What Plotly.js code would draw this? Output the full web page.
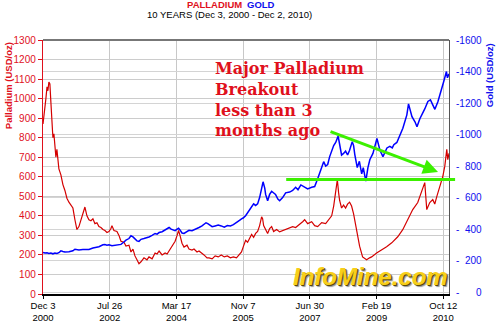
<!DOCTYPE html>
<html>
<head>
<meta charset="utf-8">
<script src="https://cdn.plot.ly/plotly-3.0.1.min.js"></script>
<style>html,body{margin:0;padding:0;background:#fff;}#chart{width:500px;height:322px;}</style>
</head>
<body>
<div id="chart"></div>
<script>
// ---- Palladium (USD/oz) ----
const palDates = ['2000-12-03','2000-12-12','2000-12-20','2000-12-29','2001-01-08','2001-01-16','2001-01-25','2001-02-03','2001-02-12','2001-02-21','2001-03-02','2001-03-11','2001-03-20','2001-03-29','2001-04-07','2001-04-16','2001-04-25','2001-05-13','2001-05-31','2001-06-18','2001-07-06','2001-07-24','2001-08-11','2001-08-29','2001-09-16','2001-10-04','2001-10-22','2001-11-09','2001-11-27','2001-12-15','2002-01-02','2002-01-20','2002-02-07','2002-02-25','2002-03-15','2002-04-02','2002-04-20','2002-05-08','2002-05-26','2002-06-13','2002-07-01','2002-07-19','2002-08-06','2002-08-15','2002-09-02','2002-09-29','2002-10-17','2002-11-04','2002-12-01','2002-12-19','2003-01-15','2003-02-02','2003-02-20','2003-03-10','2003-03-28','2003-04-15','2003-05-03','2003-05-30','2003-06-26','2003-07-14','2003-08-11','2003-09-07','2003-09-25','2003-10-13','2003-11-09','2003-12-06','2003-12-24','2004-01-11','2004-01-29','2004-02-16','2004-03-05','2004-03-23','2004-04-05','2004-04-18','2004-05-06','2004-05-24','2004-06-20','2004-07-08','2004-08-04','2004-08-22','2004-09-18','2004-10-06','2004-11-02','2004-11-20','2004-12-17','2005-01-04','2005-02-01','2005-02-28','2005-03-28','2005-04-24','2005-05-21','2005-06-18','2005-07-15','2005-08-11','2005-09-08','2005-10-05','2005-10-23','2005-11-07','2005-11-29','2005-12-17','2006-01-04','2006-01-22','2006-02-09','2006-02-27','2006-03-17','2006-04-04','2006-04-22','2006-05-01','2006-05-10','2006-05-28','2006-06-15','2006-07-03','2006-07-21','2006-08-08','2006-09-04','2006-10-01','2006-10-28','2006-11-24','2006-12-30','2007-01-26','2007-02-22','2007-03-30','2007-04-26','2007-05-14','2007-06-10','2007-07-16','2007-08-12','2007-09-08','2007-10-14','2007-11-19','2007-12-25','2008-01-12','2008-01-30','2008-02-17','2008-03-03','2008-03-14','2008-03-23','2008-04-10','2008-04-28','2008-05-16','2008-06-03','2008-06-21','2008-07-09','2008-07-27','2008-08-23','2008-09-19','2008-10-16','2008-11-21','2008-12-18','2009-01-05','2009-02-19','2009-04-06','2009-05-20','2009-07-05','2009-08-28','2009-10-12','2009-11-26','2010-01-10','2010-02-24','2010-03-23','2010-04-10','2010-04-28','2010-05-16','2010-06-12','2010-07-09','2010-07-27','2010-08-14','2010-09-10','2010-10-07','2010-10-25','2010-11-03','2010-11-12','2010-11-21','2010-12-02'];
const palValues = [870,930,960,1000,1060,1040,1085,1075,980,880,800,820,760,700,740,680,640,610,560,530,490,470,455,440,380,330,345,380,420,445,400,380,375,385,360,365,345,340,330,325,315,320,335,350,325,320,300,270,265,245,250,215,230,195,175,155,165,185,175,190,180,210,205,220,200,210,205,220,235,255,270,300,325,300,260,240,250,230,225,230,215,220,210,200,185,185,180,195,190,200,190,195,185,190,185,200,215,240,275,265,290,305,290,310,320,350,395,385,350,330,310,335,345,320,330,318,325,330,340,345,340,355,370,380,360,370,350,345,365,360,385,400,450,520,585,520,480,440,455,440,460,470,450,410,330,245,190,175,185,190,210,225,242,262,293,329,380,432,468,510,534,570,432,468,483,460,498,550,601,653,700,740,688,720];

// ---- Gold (USD/oz) ----
const goldDates = ['2000-12-03','2000-12-20','2001-01-08','2001-01-25','2001-02-12','2001-03-02','2001-03-20','2001-04-07','2001-04-25','2001-05-13','2001-05-31','2001-06-18','2001-07-24','2001-08-11','2001-08-29','2001-09-16','2001-10-04','2001-10-22','2001-11-27','2002-01-02','2002-01-20','2002-02-25','2002-03-15','2002-04-20','2002-05-26','2002-06-13','2002-07-01','2002-07-19','2002-08-15','2002-09-29','2002-10-17','2002-11-04','2002-12-01','2002-12-19','2003-01-15','2003-02-02','2003-02-20','2003-03-10','2003-03-28','2003-04-15','2003-05-03','2003-05-30','2003-06-26','2003-07-14','2003-08-11','2003-09-07','2003-09-25','2003-10-13','2003-11-09','2003-12-06','2003-12-24','2004-01-11','2004-01-29','2004-02-16','2004-03-05','2004-03-23','2004-04-05','2004-04-18','2004-05-06','2004-05-24','2004-06-20','2004-07-08','2004-08-04','2004-08-22','2004-09-18','2004-10-06','2004-11-02','2004-11-20','2004-12-08','2004-12-24','2005-01-15','2005-02-01','2005-02-28','2005-03-28','2005-04-24','2005-05-21','2005-06-18','2005-07-15','2005-08-11','2005-09-08','2005-10-05','2005-10-23','2005-11-07','2005-11-29','2005-12-17','2006-01-04','2006-01-22','2006-02-09','2006-02-27','2006-03-17','2006-04-04','2006-04-22','2006-05-05','2006-05-20','2006-05-28','2006-06-15','2006-07-03','2006-07-21','2006-08-08','2006-08-25','2006-09-15','2006-10-01','2006-10-28','2006-11-24','2006-12-30','2007-01-26','2007-02-22','2007-03-15','2007-04-10','2007-05-14','2007-06-10','2007-07-16','2007-08-12','2007-09-08','2007-09-26','2007-10-14','2007-11-01','2007-11-19','2007-12-07','2007-12-25','2008-01-12','2008-01-30','2008-02-17','2008-03-10','2008-03-23','2008-04-10','2008-04-28','2008-05-16','2008-06-03','2008-06-21','2008-07-15','2008-07-27','2008-08-07','2008-08-29','2008-09-17','2008-10-08','2008-10-22','2008-11-14','2008-12-03','2008-12-20','2009-01-17','2009-02-22','2009-03-21','2009-04-17','2009-05-23','2009-06-18','2009-07-10','2009-07-24','2009-08-20','2009-09-17','2009-10-13','2009-11-18','2009-12-03','2010-01-03','2010-01-30','2010-02-17','2010-03-15','2010-04-29','2010-05-26','2010-06-18','2010-07-10','2010-07-28','2010-08-24','2010-09-29','2010-10-17','2010-11-09','2010-11-18','2010-12-02'];
const goldValues = [252,248,250,245,248,243,248,245,250,262,258,255,256,258,262,272,270,268,270,272,270,280,282,288,300,302,298,301,295,300,305,303,318,330,340,358,350,340,325,322,335,340,345,350,360,372,368,378,383,395,405,410,400,395,390,400,405,395,375,372,385,392,390,395,400,410,420,430,440,435,420,415,420,425,420,412,422,420,428,440,455,465,470,485,505,520,540,560,550,560,600,650,700,660,620,580,620,640,630,620,590,580,600,630,635,645,665,650,680,665,655,665,670,720,760,790,828,800,810,860,900,930,950,990,940,870,880,895,870,900,955,930,873,790,830,750,790,705,790,840,880,975,900,860,915,925,915,935,950,1000,1040,1125,1195,1113,1081,1050,1100,1164,1210,1220,1190,1160,1208,1290,1340,1400,1360,1385];

// ---- Tick labels ----
const xTickVals = ['2000-12-03','2002-07-26','2004-03-17','2005-11-07','2007-06-30','2009-02-19','2010-10-12'];
const xTickText = ['Dec 3<br>2000','Jul 26<br>2002','Mar 17<br>2004','Nov 7<br>2005','Jun 30<br>2007','Feb 19<br>2009','Oct 12<br>2010'];
const palTickVals = [0,100,200,300,400,500,600,700,800,900,1000,1100,1200,1300];
const goldTickVals = [0,200,400,600,800,1000,1200,1400,1600];
const goldTickText = goldTickVals.map(v => '-' + '\u2007'.repeat(4 - String(v).length) + v);

const RED = '#e0101c', BLUE = '#1010ee', GREEN = '#3cf000';

const traces = [
  {x: palDates, y: palValues, type: 'scatter', mode: 'lines', name: 'Palladium',
   line: {color: '#d40000', width: 1.2}, yaxis: 'y', hoverinfo: 'skip'},
  {x: goldDates, y: goldValues, type: 'scatter', mode: 'lines', name: 'Gold',
   line: {color: '#0000ff', width: 1.5}, yaxis: 'y2', hoverinfo: 'skip'}
];

const layout = {
  width: 500, height: 322,
  margin: {l: 43, r: 51, t: 40, b: 28},
  paper_bgcolor: '#ffffff', plot_bgcolor: '#ffffff',
  showlegend: false,
  font: {family: 'Arial, Liberation Sans, sans-serif', size: 10, color: '#000'},
  xaxis: {
    type: 'date', range: ['2000-12-03', '2010-12-02'],
    tickvals: xTickVals, ticktext: xTickText,
    ticks: 'outside', ticklen: 3, tickcolor: '#000',
    showgrid: true, gridcolor: '#c8c8c8', gridwidth: 1,
    showline: true, linecolor: '#000', linewidth: 1.5,
    tickfont: {size: 9.5, color: '#000'}, zeroline: false, ticklabelstandoff: -1
  },
  yaxis: {
    range: [0, 1300], tickvals: palTickVals,
    ticks: 'outside', ticklen: 4, tickcolor: RED,
    showgrid: true, gridcolor: '#cccccc', gridwidth: 1,
    showline: true, linecolor: RED, linewidth: 1.2,
    tickfont: {size: 10, color: RED}, zeroline: false
  },
  yaxis2: {
    overlaying: 'y', side: 'right', range: [-12, 1600],
    tickvals: goldTickVals, ticktext: goldTickText,
    ticks: '', showgrid: true, gridcolor: '#d4d4d4', gridwidth: 1,
    showline: true, linecolor: '#555', linewidth: 1,
    tickfont: {size: 10, color: BLUE}, zeroline: false, ticklabelstandoff: 4
  },
  shapes: [
    {type: 'line', xref: 'paper', yref: 'paper', x0: 0, x1: 1, y0: 1, y1: 1,
     line: {color: '#777', width: 2}},
    {type: 'line', xref: 'paper', yref: 'y2', x0: 0.599, x1: 1.015, y0: 715, y1: 715,
     line: {color: GREEN, width: 3}}
  ],
  annotations: [
    {xref: 'paper', yref: 'paper', x: 0.495, y: 1.14, xanchor: 'right', yanchor: 'middle',
     text: '<b>PALLADIUM</b>', showarrow: false, font: {size: 9.5, color: RED}},
    {xref: 'paper', yref: 'paper', x: 0.576, y: 1.14, xanchor: 'right', yanchor: 'middle',
     text: '<b>GOLD</b>', showarrow: false, font: {size: 9.5, color: BLUE}},
    {xref: 'paper', yref: 'paper', x: 0.46, y: 1.10, xanchor: 'center', yanchor: 'middle',
     text: '10 YEARS (Dec 3, 2000 - Dec 2, 2010)', showarrow: false, font: {size: 9.5, color: '#000'}},
    {xref: 'paper', yref: 'paper', x: -0.085, y: 0.82, xanchor: 'center', yanchor: 'middle', textangle: -90,
     text: '<b>Palladium (USD/oz)</b>', showarrow: false, font: {size: 9.5, color: RED}},
    {xref: 'paper', yref: 'paper', x: 1.1, y: 0.86, xanchor: 'center', yanchor: 'middle', textangle: -90,
     text: '<b>Gold (USD/oz)</b>', showarrow: false, font: {size: 9.5, color: BLUE}},
    {xref: 'paper', yref: 'paper', x: 0.418, y: 0.935, xanchor: 'left', yanchor: 'top', align: 'left',
     text: '<b>Major Palladium<br>Breakout<br>less than 3<br>months ago</b>', showarrow: false,
     font: {family: 'DejaVu Serif, Georgia, serif', size: 16, color: RED}},
    {xref: 'paper', yref: 'paper', x: 0.973, y: 0.48, ax: -109, ay: -41, axref: 'pixel', ayref: 'pixel',
     text: '', showarrow: true, arrowhead: 2, arrowsize: 1, arrowwidth: 3, arrowcolor: GREEN},
    {xref: 'paper', yref: 'paper', x: 0.807, y: 0.07, xanchor: 'center', yanchor: 'middle',
     text: '<b><i>InfoMine.com</i></b>', showarrow: false,
     font: {family: 'Liberation Sans, Arial, sans-serif', size: 24, color: '#f7cf1a', shadow: '1px 1px 0px #5a4a08, 2px 2px 1px #999'}}
  ]
};

Plotly.newPlot('chart', traces, layout, {displayModeBar: false, staticPlot: true});
</script>
</body>
</html>
